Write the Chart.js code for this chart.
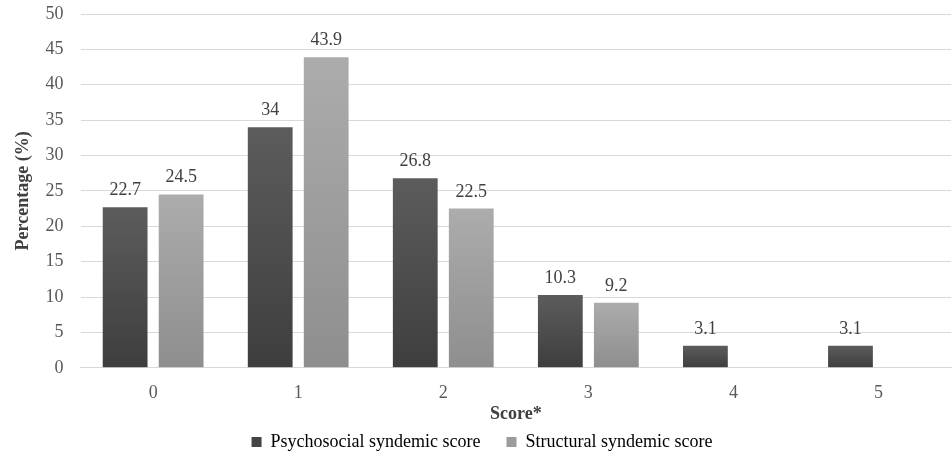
<!DOCTYPE html>
<html>
<head>
<meta charset="utf-8">
<script src="https://cdn.jsdelivr.net/npm/chart.js@4/dist/chart.umd.min.js"></script>
<style>
  html, body { margin: 0; padding: 0; background: #fff; }
  #wrap { width: 952px; height: 461px; }
</style>
</head>
<body>
<div id="wrap"><canvas id="chart" width="952" height="461"></canvas></div>
<script>
// --- data ---
const scores = ['0', '1', '2', '3', '4', '5'];
const psychosocial = [22.7, 34, 26.8, 10.3, 3.1, 3.1];
const structural = [24.5, 43.9, 22.5, 9.2, null, null];
const seriesNames = ['Psychosocial syndemic score', 'Structural syndemic score'];

const serif = "'Liberation Serif', 'Times New Roman', serif";

// vertical gradient per bar (top lighter, bottom darker)
function barGradient(top, bottom) {
    return ctx => {
        const chart = ctx.chart;
        const y = chart.scales.y;
        if (!y || ctx.raw == null) return bottom;
        const y0 = y.getPixelForValue(ctx.raw);
        const y1 = y.getPixelForValue(0);
        if (!isFinite(y0) || !isFinite(y1) || y0 === y1) return bottom;
        const g = chart.ctx.createLinearGradient(0, y0, 0, y1);
        g.addColorStop(0, top);
        g.addColorStop(1, bottom);
        return g;
    };
}

// value labels above each bar
const valueLabels = {
    id: 'valueLabels',
    afterDatasetsDraw(chart) {
        const c = chart.ctx;
        c.save();
        c.font = '18px ' + serif;
        c.fillStyle = '#404040';
        c.textAlign = 'center';
        c.textBaseline = 'alphabetic';
        chart.data.datasets.forEach((ds, i) => {
            chart.getDatasetMeta(i).data.forEach((bar, j) => {
                const v = ds.data[j];
                if (v == null) return;
                c.fillText(String(v), bar.x, bar.y - 12);
            });
        });
        c.restore();
    }
};

new Chart(document.getElementById('chart'), {
    type: 'bar',
    data: {
        labels: scores,
        datasets: [
            {
                label: seriesNames[0],
                data: psychosocial,
                backgroundColor: barGradient('#5c5c5c', '#3e3e3e')
            },
            {
                label: seriesNames[1],
                data: structural,
                backgroundColor: barGradient('#acacac', '#8e8e8e')
            }
        ]
    },
    options: {
        responsive: false,
        animation: false,
        devicePixelRatio: 1,
        categoryPercentage: 0.772,
        barPercentage: 0.8,
        layout: { padding: { top: 14, right: 1, left: 13, bottom: 0 } },
        plugins: {
            tooltip: { enabled: false },
            legend: {
                position: 'bottom',
                labels: {
                    boxWidth: 10,
                    boxHeight: 10,
                    padding: 26,
                    color: '#404040',
                    font: { family: serif, size: 18 },
                    generateLabels(chart) {
                        return chart.data.datasets.map((ds, i) => ({
                            text: ds.label,
                            fillStyle: i === 0 ? '#444444' : '#9c9c9c',
                            strokeStyle: i === 0 ? '#444444' : '#9c9c9c',
                            lineWidth: 0,
                            datasetIndex: i
                        }));
                    }
                }
            }
        },
        scales: {
            x: {
                grid: { display: false },
                border: { color: '#d9d9d9', width: 1 },
                ticks: { color: '#595959', font: { family: serif, size: 18 }, padding: 7 },
                title: {
                    display: true,
                    text: 'Score*',
                    color: '#404040',
                    font: { family: serif, size: 18, weight: 'bold' },
                    padding: { top: -8, bottom: -18 }
                }
            },
            y: {
                min: 0,
                max: 50,
                ticks: { stepSize: 5, color: '#595959', font: { family: serif, size: 18 }, padding: 17 },
                grid: { color: '#d9d9d9', drawTicks: false },
                border: { display: false },
                afterFit(scale) { scale.paddingTop = 0; },
                title: {
                    display: true,
                    text: 'Percentage (%)',
                    color: '#404040',
                    font: { family: serif, size: 18, weight: 'bold' },
                    padding: { top: 0, bottom: -6 }
                }
            }
        }
    },
    plugins: [valueLabels]
});
</script>
</body>
</html>
